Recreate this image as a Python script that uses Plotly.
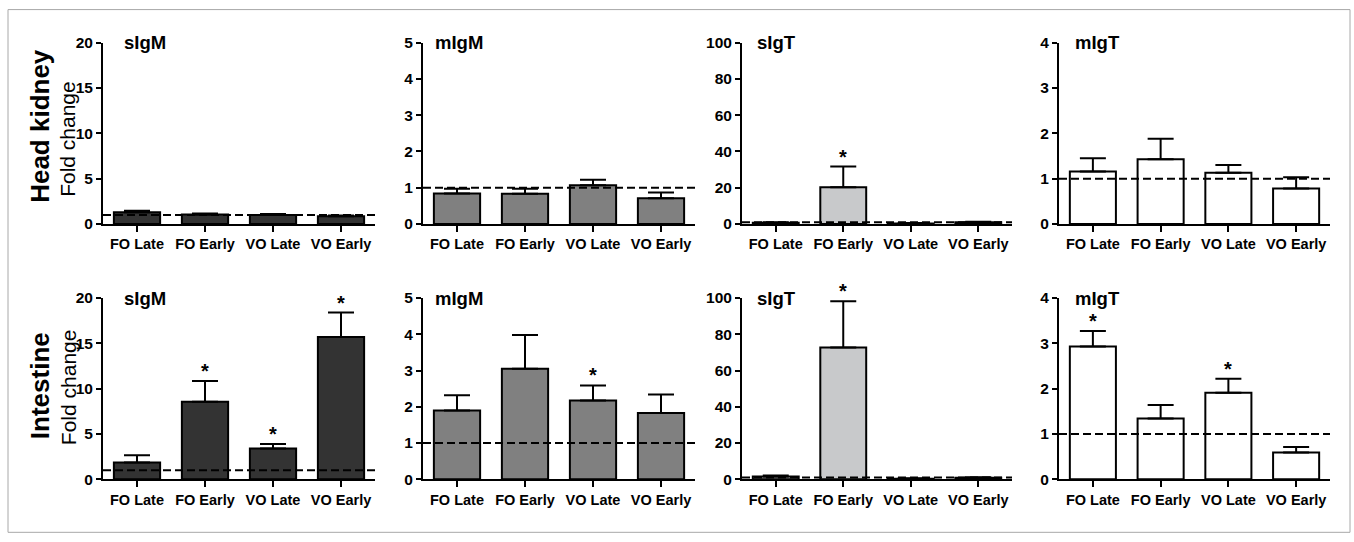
import plotly.graph_objects as go

W, H = 1354, 542

categories = ["FO Late", "FO Early", "VO Late", "VO Early"]
genes = ["sIgM", "mIgM", "sIgT", "mIgT"]
y_max = [20, 5, 100, 4]
y_dtick = [5, 1, 20, 1]
bar_colors = ["#333333", "#808080", "#c8c9cb", "#ffffff"]
row_labels = ["Head kidney", "Intestine"]

# Head kidney (top row)
hk_sigm = [1.3, 1.05, 1.0, 0.85]
hk_sigm_err = [0.15, 0.1, 0.1, 0.07]
hk_migm = [0.84, 0.83, 1.07, 0.71]
hk_migm_err = [0.13, 0.14, 0.15, 0.16]
hk_sigt = [0.6, 20.3, 0.3, 0.9]
hk_sigt_err = [0.3, 11.4, 0.2, 0.3]
hk_migt = [1.16, 1.43, 1.13, 0.78]
hk_migt_err = [0.29, 0.45, 0.17, 0.25]

# Intestine (bottom row)
in_sigm = [1.84, 8.55, 3.39, 15.7]
in_sigm_err = [0.8, 2.3, 0.5, 2.7]
in_migm = [1.90, 3.05, 2.17, 1.83]
in_migm_err = [0.42, 0.93, 0.42, 0.51]
in_sigt = [1.5, 72.7, 0.3, 0.8]
in_sigt_err = [0.6, 25.5, 0.2, 0.3]
in_migt = [2.93, 1.34, 1.91, 0.59]
in_migt_err = [0.34, 0.30, 0.31, 0.12]

hk_stars = [[0, 0, 0, 0], [0, 0, 0, 0], [0, 1, 0, 0], [0, 0, 0, 0]]
in_stars = [[0, 1, 1, 1], [0, 0, 1, 0], [0, 1, 0, 0], [1, 0, 1, 0]]

rows = [
    ([hk_sigm, hk_migm, hk_sigt, hk_migt], [hk_sigm_err, hk_migm_err, hk_sigt_err, hk_migt_err], hk_stars),
    ([in_sigm, in_migm, in_sigt, in_migt], [in_sigm_err, in_migm_err, in_sigt_err, in_migt_err], in_stars),
]

# target pixel layout (as seen in the photographed page)
col_px = [(103, 375), (423, 695), (742, 1012), (1059, 1330)]
row_px = [(224, 43), (479, 298)]  # (zero, top)
title_off = [19, 10, 13, 14]

# the photographed page is vertically offset / compressed relative to the figure
Y_OFF, Y_SC = 9.3, 0.9675


def px(x):
    return x / W


def py(y):
    fy = (y - Y_OFF) / Y_SC
    return 1 - fy / H


FONT = "Liberation Sans, Arial, sans-serif"

fig = go.Figure()
layout = dict(
    width=W, height=H, margin=dict(l=0, r=0, t=0, b=0),
    paper_bgcolor="white", plot_bgcolor="white",
    showlegend=False, bargap=0.32, hovermode=False,
    font=dict(family=FONT, color="black"),
)
annotations = []
shapes = []

idx = 0
for r, (vals, errs, stars) in enumerate(rows):
    for c in range(4):
        idx += 1
        xa = "x" if idx == 1 else f"x{idx}"
        ya = "y" if idx == 1 else f"y{idx}"
        xkey = "xaxis" if idx == 1 else f"xaxis{idx}"
        ykey = "yaxis" if idx == 1 else f"yaxis{idx}"
        fig.add_trace(go.Bar(
            x=categories, y=vals[c], xaxis=xa, yaxis=ya,
            marker=dict(color=bar_colors[c], line=dict(color="black", width=2)),
            error_y=dict(type="data", symmetric=False, array=errs[c],
                         arrayminus=[0] * 4, color="black", thickness=2, width=13),
        ))
        layout[xkey] = dict(
            domain=[px(col_px[c][0]), px(col_px[c][1])], anchor=ya,
            type="category", categoryorder="array", categoryarray=categories,
            range=[-0.5, 3.5], showline=True, linecolor="black", linewidth=2,
            ticks="outside", ticklen=6, tickwidth=2, tickcolor="black",
            showgrid=False, zeroline=False,
            tickfont=dict(family=FONT, size=14.5, weight="bold", color="black"),
        )
        layout[ykey] = dict(
            domain=[py(row_px[r][0]), py(row_px[r][1])], anchor=xa,
            range=[0, y_max[c]], dtick=y_dtick[c], tick0=0,
            showline=True, linecolor="black", linewidth=2,
            ticks="outside", ticklen=5, tickwidth=2, tickcolor="black",
            showgrid=False, zeroline=False,
            tickfont=dict(family=FONT, size=15.5, weight="bold", color="black"),
        )
        # reference line at 1
        shapes.append(dict(type="line", xref=xa, yref=ya, x0=-0.5, x1=3.5, y0=1, y1=1,
                           line=dict(color="black", width=2, dash="8px,4px"), layer="above"))
        # panel title
        annotations.append(dict(
            text=f"<b>{genes[c]}</b>", xref=f"{xa} domain", yref=f"{ya} domain",
            x=title_off[c] / (col_px[c][1] - col_px[c][0]), y=1, xanchor="left", yanchor="middle",
            showarrow=False, font=dict(family=FONT, size=18.5, color="black"),
        ))
        # significance stars
        for k in range(4):
            if stars[c][k]:
                annotations.append(dict(
                    text="<b>*</b>", xref=xa, yref=ya, x=categories[k],
                    y=vals[c][k] + errs[c][k], xanchor="center", yanchor="bottom",
                    yshift=-3, showarrow=False,
                    font=dict(family=FONT, size=20, color="black"),
                ))

# row labels
label_y = [(126, 139), (386, 387)]
for r in range(2):
    annotations.append(dict(
        text=f"<b>{row_labels[r]}</b>", xref="paper", yref="paper",
        x=px(40), y=py(label_y[r][0]), xanchor="center", yanchor="middle",
        textangle=-90, showarrow=False, font=dict(family=FONT, size=26, color="black"),
    ))
    annotations.append(dict(
        text="Fold change", xref="paper", yref="paper",
        x=px(68), y=py(label_y[r][1]), xanchor="center", yanchor="middle",
        textangle=-90, showarrow=False, font=dict(family=FONT, size=21, color="black"),
    ))

# outer frame
frame_top = min(py(8), 1 - 0.6 / H)
shapes.append(dict(type="rect", xref="paper", yref="paper",
                   x0=px(8), x1=px(1350), y0=py(532), y1=frame_top,
                   line=dict(color="#a8a8a8", width=1), layer="below"))

layout["annotations"] = annotations
layout["shapes"] = shapes
fig.update_layout(**layout)
fig.write_html(
    "out.html",
    config={"displayModeBar": False, "staticPlot": True},
    post_script=(
        "document.documentElement.style.margin='0';"
        "document.body.style.margin='0';document.body.style.padding='0';"
        "document.body.style.overflow='hidden';"
        "var d=document.getElementById('{plot_id}');"
        "d.style.position='fixed';d.style.left='0px';d.style.top='0px';"
    ),
)
